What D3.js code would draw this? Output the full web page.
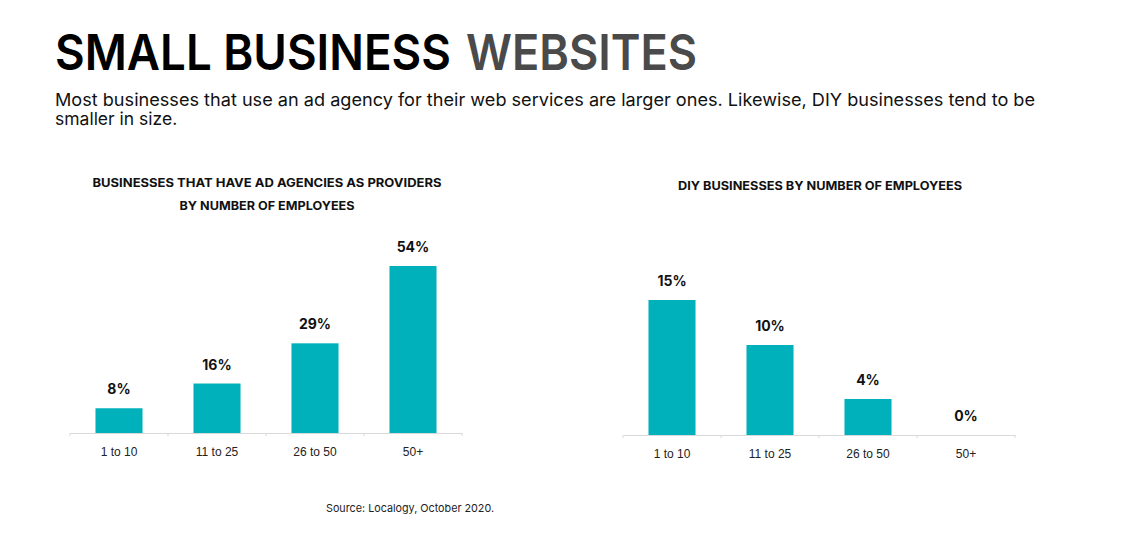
<html><head>
  <script src="https://d3js.org/d3.v7.min.js"></script>
  <style>
    body { margin: 0; background: #fff; }
    .head { font-family: Inter, 'Noto Sans', sans-serif; }
    .axis text { font-family: 'Liberation Sans', Arial, sans-serif; font-size: 12px; fill: #222; }
  </style>
</head>
<body>
  <script>
    // categories and values
    const groups = ["1 to 10", "11 to 25", "26 to 50", "50+"]
    const agencyPct = [8, 16, 29, 54]
    const diyPct = [15, 10, 4, 0]
    const chartTitles = [["BUSINESSES THAT HAVE AD AGENCIES AS PROVIDERS", "BY NUMBER OF EMPLOYEES"],
                         ["DIY BUSINESSES BY NUMBER OF EMPLOYEES"]]

    const barColor = "#00b1bb"

    const svg = d3.select("body").append("svg")
                  .attr("width", 1138)
                  .attr("height", 547)

    // Main title, two parts in two colours
    svg.append("text").attr("class", "head")
       .attr("x", 55).attr("y", 70)
       .attr("textLength", 396).attr("lengthAdjust", "spacingAndGlyphs")
       .style("font-size", "50px").style("font-weight", 600).style("fill", "#000")
       .text("SMALL BUSINESS")
    svg.append("text").attr("class", "head")
       .attr("x", 466).attr("y", 70)
       .attr("textLength", 231).attr("lengthAdjust", "spacingAndGlyphs")
       .style("font-size", "50px").style("font-weight", 600).style("fill", "#4a4a4a")
       .text("WEBSITES")

    svg.append("text").attr("class", "head")
       .attr("x", 55).attr("y", 106)
       .attr("textLength", 980).attr("lengthAdjust", "spacingAndGlyphs")
       .style("font-size", "17.5px").style("fill", "#111")
       .text("Most businesses that use an ad agency for their web services are larger ones. Likewise, DIY businesses tend to be")
    svg.append("text").attr("class", "head")
       .attr("x", 55).attr("y", 125)
       .style("font-size", "17.5px").style("fill", "#111")
       .text("smaller in size.")

    function drawChart(values, opts) {
      const data = groups.map((g, i) => ({group: g, value: values[i]}))
      const x = d3.scaleBand().domain(groups).range([opts.x0, opts.x1])
                  .paddingInner(0.52).paddingOuter(0.26)
      const y = d3.scaleLinear().domain([0, opts.max]).range([opts.base, opts.base - opts.h])

      const g = svg.append("g")

      // titles
      opts.title.forEach((t, i) => {
        g.append("text").attr("class", "head")
         .attr("x", (opts.x0 + opts.x1) / 2 + opts.titleDx)
         .attr("y", opts.titleY + i * 23)
         .attr("text-anchor", "middle")
         .attr("textLength", opts.titleW[i]).attr("lengthAdjust", "spacingAndGlyphs")
         .style("font-size", "12px").style("font-weight", 700).style("fill", "#111")
         .text(t)
      })

      // axis
      const axis = g.append("g").attr("class", "axis")
                    .attr("transform", `translate(0,${opts.base})`)
                    .call(d3.axisBottom(x).tickSize(0).tickPadding(14))
      axis.select(".domain").attr("stroke", "#d9d9d9")
      const edges = groups.map(d => x(d) - x.step() * x.paddingInner() / 2).concat([opts.x1])
      axis.selectAll("line.edge").data(edges).join("line").attr("class", "edge")
          .attr("x1", d => d).attr("x2", d => d).attr("y1", 0).attr("y2", 3)
          .attr("stroke", "#d9d9d9")

      g.selectAll("rect.bar").data(data).join("rect").attr("class", "bar")
       .attr("x", d => x(d.group))
       .attr("y", d => y(d.value))
       .attr("width", x.bandwidth())
       .attr("height", d => y(0) - y(d.value))
       .style("fill", barColor)

      g.selectAll("text.val").data(data).join("text").attr("class", "val head")
       .attr("x", d => x(d.group) + x.bandwidth() / 2)
       .attr("y", d => y(d.value) - 14)
       .attr("text-anchor", "middle")
       .style("font-size", "14px").style("font-weight", 700).style("fill", "#111")
       .text(d => d.value + "%")
    }

    drawChart(agencyPct, {x0: 70, x1: 462, base: 433, max: 54, h: 167,
                          title: chartTitles[0], titleY: 187, titleDx: 1, titleW: [349, 175]})
    drawChart(diyPct, {x0: 623, x1: 1015, base: 435, max: 15, h: 135,
                       title: chartTitles[1], titleY: 190, titleDx: 1, titleW: [284]})

    svg.append("text").attr("class", "head")
       .attr("x", 410).attr("y", 512)
       .attr("text-anchor", "middle")
       .attr("textLength", 168).attr("lengthAdjust", "spacingAndGlyphs")
       .style("font-size", "11px").style("fill", "#222")
       .text("Source: Localogy, October 2020.")
  </script>
</body></html>
